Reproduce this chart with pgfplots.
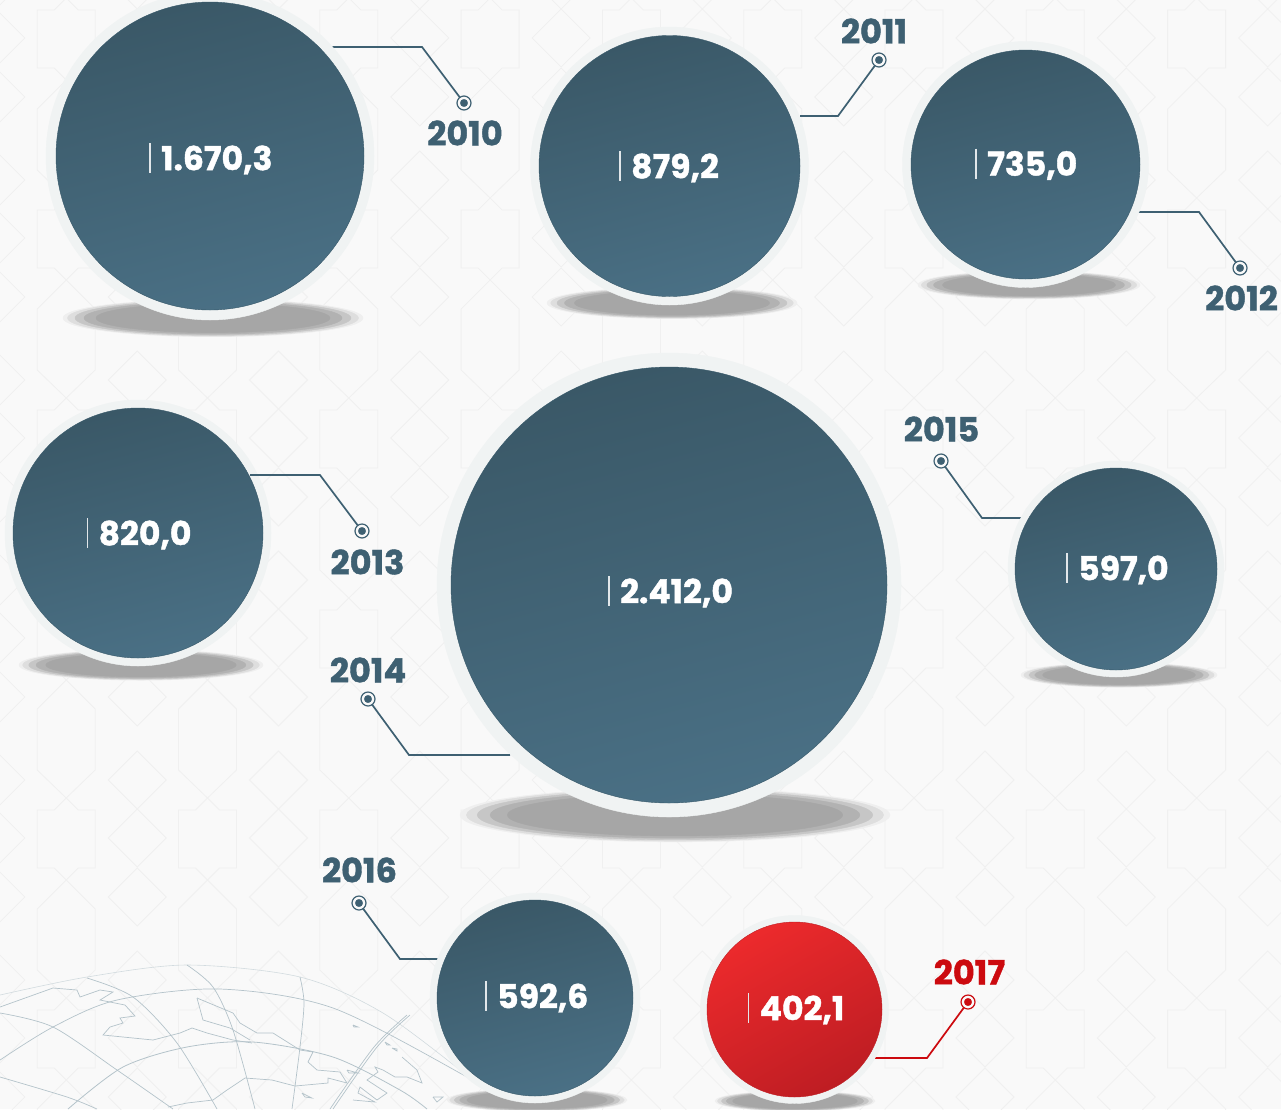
\documentclass[border=0pt]{standalone}
\usepackage{fontspec}
\setmainfont{Poppins}[BoldFeatures={FakeBold=1.2}]
\usepackage{pgfplots}
\pgfplotsset{compat=1.18}

\definecolor{bgc}{HTML}{F9F9F9}
\definecolor{patc}{HTML}{F0F0F0}
\definecolor{halo}{HTML}{F0F3F3}
\definecolor{edge}{HTML}{38596A}
\definecolor{lab}{HTML}{3E6072}
\definecolor{redl}{HTML}{CC0A0F}
\definecolor{mapc}{HTML}{B4C3CA}
\definecolor{bubT}{HTML}{3A5867}
\definecolor{bubB}{HTML}{4A7085}
\definecolor{redT}{HTML}{EC2A2C}
\definecolor{redB}{HTML}{BE1D23}
\definecolor{sh1}{HTML}{EFEFEF}
\definecolor{sh2}{HTML}{DEDEDE}
\definecolor{sh3}{HTML}{C6C6C6}
\definecolor{sh4}{HTML}{B2B2B2}
\definecolor{sh5}{HTML}{A6A6A6}
\pgfdeclareverticalshading{bluebub}{100bp}{color(0bp)=(bubB);color(25bp)=(bubB);color(75bp)=(bubT);color(100bp)=(bubT)}
\pgfdeclareverticalshading{redbub}{100bp}{color(0bp)=(redB);color(25bp)=(redB);color(75bp)=(redT);color(100bp)=(redT)}
\pgfdeclareplotmark{bluecirc}{\pgfsetstrokecolor{edge}\pgfpathcircle{\pgfpointorigin}{\pgfplotmarksize}\pgfshadepath{bluebub}{15}\pgfusepathqstroke}
\pgfdeclareplotmark{redcirc}{\pgfsetstrokecolor{redB}\pgfpathcircle{\pgfpointorigin}{\pgfplotmarksize}\pgfshadepath{redbub}{30}\pgfusepathqstroke}

% shadow: x, y, half width, half height
\newcommand{\shadow}[4]{%
  \pgfmathsetmacro{\sr}{#4/#3}%
  \addplot[only marks, mark=*, mark size=#3pt, mark options={yscale=\sr, draw=sh1, fill=sh1}] coordinates {(#1,#2)};
  \addplot[only marks, mark=*, mark size={0.97*#3}, mark options={yscale=\sr, draw=sh2, fill=sh2}] coordinates {(#1,#2)};
  \addplot[only marks, mark=*, mark size={0.92*#3}, mark options={yscale=\sr, draw=sh3, fill=sh3}] coordinates {(#1,#2)};
  \addplot[only marks, mark=*, mark size={0.86*#3}, mark options={yscale=\sr, draw=sh4, fill=sh4}] coordinates {(#1,#2)};
  \addplot[only marks, mark=*, mark size={0.78*#3}, mark options={yscale=\sr, draw=sh5, fill=sh5}] coordinates {(#1,#2)};
}
% bubble: x, y, radius, halo radius, mark
\newcommand{\bubble}[5]{%
  \addplot[only marks, mark=*, mark size=#4pt, mark options={draw=halo, fill=halo}] coordinates {(#1,#2)};
  \addplot[only marks, mark=#5, mark size=#3pt] coordinates {(#1,#2)};
}
\newcommand{\valuelabel}[3]{%
  \node[anchor=west, inner sep=0pt, text=white, font=\fontsize{33}{33}\selectfont\bfseries] at (axis cs:#1,#2) {#3};
  \addplot[white!85!lab, line width=1.2pt] coordinates {({#1-11},{#2-17}) ({#1-11},{#2+13})};
}
\newcommand{\yearlabel}[4]{%
  \node[inner sep=0pt, text=#4, font=\fontsize{33.5}{33.5}\selectfont\bfseries] at (axis cs:#1,#2) {#3};
}
\newcommand{\pin}[3]{%
  \addplot[only marks, mark=*, mark size=7pt, mark options={draw=#3, fill=bgc, line width=1.2pt}] coordinates {(#1,#2)};
  \addplot[only marks, mark=*, mark size=3.8pt, mark options={draw=#3, fill=#3, line width=0.2pt}] coordinates {(#1,#2)};
}
\pgfplotsset{full/.style={
  at={(0,0)}, anchor=south west,
  scale only axis, width=1281pt, height=1109pt,
  xmin=0, xmax=1281, ymin=0, ymax=1109, y dir=reverse,
  axis lines=none, clip=false}}

\begin{document}
\begin{tikzpicture}[x=1pt,y=1pt]
\clip (0,0) rectangle (1281,1109);
\fill[bgc] (0,0) rectangle (1281,1109);
\foreach \i in {-7,...,3}{
  \foreach \j in {-2,...,4}{
    \begin{scope}[x=1pt,y=-1pt,shift={({914+141.3*\i},{-(1109-200-200*\j)})},draw=patc,line width=0.8pt]
      \draw (0,80) -- (29,109) -- (29,170) -- (0,198) -- (-29,170) -- (-29,109) -- cycle;
      \draw (0,198) -- (12,210) -- (29,210) -- (29,268) -- (12,268) -- (0,280) -- (-12,268) -- (-29,268) -- (-29,210) -- (-12,210) -- cycle;
      \foreach \dy in {180,238,297}{
        \draw (71,\dy-29) -- (100,\dy) -- (71,\dy+29) -- (42,\dy) -- cycle;
      }
    \end{scope}
  }
}
\begin{axis}[full]
% globe
\addplot[mapc!60, line width=0.6pt, smooth] coordinates {(0,995) (87,977) (187,965) (300,977) (383,1013) (473,1080) (510,1109)};
\addplot[mapc, line width=0.7pt, smooth] coordinates {(0,1060) (53,1027) (117,1000) (220,989) (333,1008) (467,1077) (510,1105)};
\addplot[mapc, line width=0.8pt, smooth] coordinates {(68,1109) (123,1067) (187,1047) (253,1042) (333,1057) (400,1090) (427,1109)};
\addplot[mapc, line width=0.7pt, smooth] coordinates {(87,978) (133,997) (177,1043) (217,1109)};
\addplot[mapc, line width=0.7pt, smooth] coordinates {(187,965) (213,987) (233,1030) (255,1109)};
\addplot[mapc, line width=0.7pt, smooth] coordinates {(300,977) (304,1003) (300,1047) (292,1109)};
\addplot[mapc, line width=0.7pt, smooth] coordinates {(410,1015) (377,1047) (333,1109)};
\addplot[mapc, line width=0.7pt, smooth] coordinates {(407,1015) (374,1047) (330,1109)};
\addplot[mapc, line width=0.7pt, smooth] coordinates {(0,1013) (53,1027) (117,1070) (173,1109)};
\addplot[mapc, line width=0.7pt, smooth] coordinates {(0,1077) (67,1097) (97,1109)};
\addplot[mapc, line width=0.7pt] coordinates {(0,1007) (53,988) (77,990) (80,997) (100,990) (113,992) (100,1000) (125,1005) (135,1016) (120,1018) (123,1023) (110,1027) (103,1035) (153,1040) (180,1033) (192,1028) (207,1033) (233,1040) (252,1043)};
\addplot[mapc, line width=0.7pt] coordinates {(197,998) (203,1020) (230,1028) (250,1040)};
\addplot[mapc, line width=0.7pt] coordinates {(197,998) (233,1013) (240,1023) (257,1033) (273,1033) (300,1050) (313,1052) (308,1062) (317,1070) (340,1072) (347,1083) (328,1078) (328,1083) (295,1086) (272,1080) (245,1078) (227,1090) (213,1100) (187,1103) (168,1107)};
\addplot[mapc, line width=0.7pt] coordinates {(402,1057) (417,1070) (422,1083) (407,1077) (395,1077) (383,1070) (375,1067) (378,1072) (367,1080) (387,1093) (377,1100) (360,1087) (358,1093) (375,1102) (353,1100)};
\addplot[mapc, line width=0.7pt] coordinates {(385,1042) (390,1045) (387,1045) (385,1042)};
\addplot[mapc, line width=0.7pt] coordinates {(392,1048) (397,1049) (397,1051) (392,1048)};
\addplot[mapc, line width=0.7pt] coordinates {(353,1025) (358,1027) (354,1027) (353,1025)};
\addplot[mapc, line width=0.7pt] coordinates {(302,1093) (312,1098) (305,1097) (302,1093)};
\addplot[mapc, line width=0.7pt] coordinates {(347,1070) (358,1073) (349,1073) (347,1070)};
\addplot[mapc, line width=0.7pt] coordinates {(433,1097) (443,1097) (437,1102) (433,1097)};
% shadows
\shadow{213}{318}{150}{16}
\shadow{672}{303}{125}{14}
\shadow{1029}{285}{111}{12}
\shadow{141}{665}{122}{13}
\shadow{675}{815}{215}{25}
\shadow{1119}{675}{98}{11}
\shadow{537}{1100}{90}{11}
\shadow{795}{1101}{80}{10}
% leader lines
\addplot[lab, line width=1.7pt] coordinates {(332,47) (422,47) (464,103)};
\addplot[lab, line width=1.7pt] coordinates {(800,116) (838,116) (879,60)};
\addplot[lab, line width=1.7pt] coordinates {(1138,212) (1199,212) (1240,268)};
\addplot[lab, line width=1.7pt] coordinates {(510,755) (409,755) (368,699)};
\addplot[lab, line width=1.7pt] coordinates {(1022,518) (982,518) (941,461)};
\addplot[lab, line width=1.7pt] coordinates {(440,959) (400,959) (359,903)};
\addplot[redl, line width=1.7pt] coordinates {(875,1058) (927,1058) (968,1002)};
\pin{464}{103}{lab}
\pin{879}{60}{lab}
\pin{1240}{268}{lab}
\pin{368}{699}{lab}
\pin{941}{461}{lab}
\pin{359}{903}{lab}
\pin{968}{1002}{redl}
% bubbles
\bubble{210}{156}{154}{164}{bluecirc}
\bubble{669.5}{166}{130.5}{139}{bluecirc}
\bubble{1025.5}{164.5}{114.5}{123}{bluecirc}
\bubble{138}{533}{125}{133}{bluecirc}
\bubble{669}{585}{218}{232}{bluecirc}
\bubble{1116}{569}{101}{108}{bluecirc}
\bubble{535}{998}{98}{105}{bluecirc}
\bubble{794.5}{1009.5}{87.5}{94}{redcirc}
% years
\yearlabel{465}{133}{2010}{lab}
\yearlabel{874}{31}{2011}{lab}
\yearlabel{1241.5}{298}{2012}{lab}
\yearlabel{367.5}{562}{2013}{lab}
\yearlabel{368}{670}{2014}{lab}
\yearlabel{941.5}{429}{2015}{lab}
\yearlabel{359.5}{870}{2016}{lab}
\yearlabel{969.5}{972}{2017}{redl}
\end{axis}
% values go in a second axis so they sit on top of the bubbles
\begin{axis}[full]
\addplot[lab, line width=1.7pt] coordinates {(250,475) (320,475) (362,531)};
\pin{362}{531}{lab}
\valuelabel{161}{160}{1.670,3}
\valuelabel{631}{168}{879,2}
\valuelabel{987}{165.5}{735,0}
\valuelabel{98.5}{535}{820,0}
\valuelabel{620}{593}{2.412,0}
\valuelabel{1078}{570}{597,0}
\valuelabel{497}{998}{592,6}
\valuelabel{759.5}{1010}{402,1}
\end{axis}
\end{tikzpicture}
\end{document}
